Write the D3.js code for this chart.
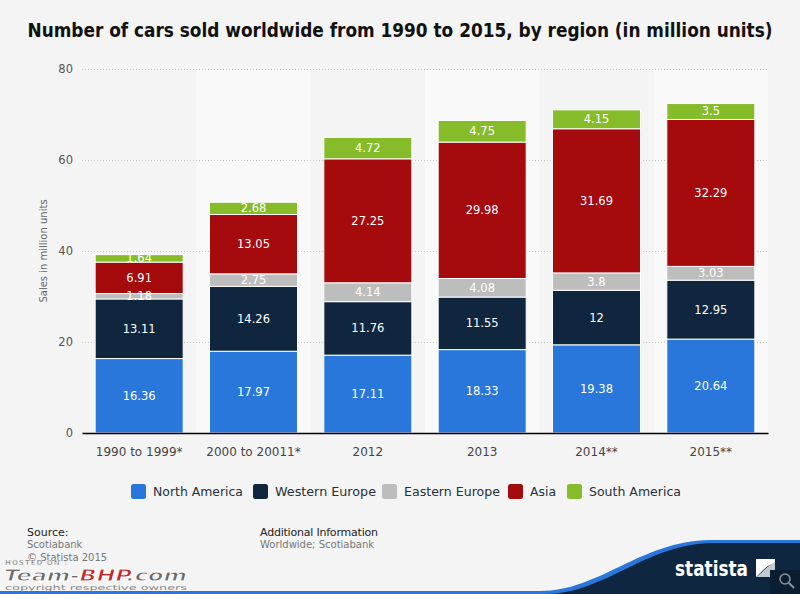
<!DOCTYPE html>
<html><head><meta charset="utf-8">
<script src="https://cdn.jsdelivr.net/npm/d3@7"></script>
<style>body{margin:0;background:#f4f4f4;}svg{display:block;}</style>
</head><body>
<svg id="c" width="800" height="594"></svg>
<script>
const categories = ["1990 to 1999*","2000 to 20011*","2012","2013","2014**","2015**"];
const seriesNames = ["North America","Western Europe","Eastern Europe","Asia","South America"];
const northAmerica = [16.36,17.97,17.11,18.33,19.38,20.64];
const westernEurope = [13.11,14.26,11.76,11.55,12,12.95];
const easternEurope = [1.18,2.75,4.14,4.08,3.8,3.03];
const asia = [6.91,13.05,27.25,29.98,31.69,32.29];
const southAmerica = [1.64,2.68,4.72,4.75,4.15,3.5];
const yTicks = [0,20,40,60,80];
const colors = ["#2a77dc","#10263f","#bdbdbd","#a50a0d","#86bc29"];

const series = [northAmerica,westernEurope,easternEurope,asia,southAmerica];
const table = categories.map((c,i)=>{const o={cat:c};seriesNames.forEach((s,j)=>o[s]=series[j][i]);return o;});
const stacked = d3.stack().keys(seriesNames)(table);

const svg = d3.select("#c");
svg.append("rect").attr("width",800).attr("height",594).attr("fill","#f4f4f4");
const m = {l:82,r:768,t:69,b:433};
const x = d3.scaleBand().domain(categories).range([m.l,m.r]).paddingInner(0.23).paddingOuter(0.115);
const xb = d3.scaleBand().domain(categories).range([m.l,m.r]);
const y = d3.scaleLinear().domain([0,80]).range([m.b,m.t]);

// alternating bands
svg.append("g").selectAll("rect").data(categories.filter((d,i)=>i%2===1)).join("rect")
  .attr("x",d=>xb(d)).attr("width",xb.bandwidth()).attr("y",m.t).attr("height",m.b-m.t).attr("fill","#f9f9f9");

// title
svg.append("text").attr("x",400).attr("y",37).attr("text-anchor","middle")
  .attr("font-family","DejaVu Sans Condensed, DejaVu Sans").attr("font-weight","bold").attr("font-size",18.6).attr("fill","#111")
  .attr("textLength",745).attr("lengthAdjust","spacingAndGlyphs")
  .text("Number of cars sold worldwide from 1990 to 2015, by region (in million units)");

// grid
const yAxis = d3.axisLeft(y).tickValues(yTicks).tickSize(-(m.r-m.l)).tickPadding(9);
const gy = svg.append("g").attr("transform",`translate(${m.l},0)`).call(yAxis);
gy.select(".domain").remove();
gy.selectAll(".tick line").attr("stroke","#c8c8c8").attr("stroke-dasharray","1,2").attr("stroke-width",1);
gy.selectAll(".tick text").attr("font-family","DejaVu Sans").attr("font-size",11.5).attr("fill","#555");
gy.selectAll(".tick").filter(d=>d===0).select("line").remove();

svg.append("text").attr("transform","translate(47,251) rotate(-90)").attr("text-anchor","middle")
  .attr("font-family","DejaVu Sans").attr("font-size",10).attr("fill","#666").text("Sales in million units");

// bars
const g = svg.append("g");
stacked.forEach((s,j)=>{
  g.append("g").selectAll("rect").data(s).join("rect")
    .attr("x",d=>x(d.data.cat)).attr("width",x.bandwidth())
    .attr("y",d=>y(d[1])).attr("height",d=>y(d[0])-y(d[1]))
    .attr("fill",colors[j]).attr("stroke","#fff").attr("stroke-width",1);
});
stacked.forEach((s,j)=>{
  g.append("g").selectAll("text").data(s).join("text")
    .attr("x",d=>x(d.data.cat)+x.bandwidth()/2).attr("y",d=>(y(d[0])+y(d[1]))/2+4)
    .attr("text-anchor","middle").attr("font-family","DejaVu Sans").attr("font-size",11.5).attr("fill","#fff")
    .text(d=>d.data[seriesNames[j]]);
});

// x axis
const xAxis = d3.axisBottom(xb).tickSize(0).tickPadding(14);
const gx = svg.append("g").attr("transform",`translate(0,${m.b})`).call(xAxis);
gx.select(".domain").attr("stroke","#000").attr("stroke-width",1.5);
gx.selectAll(".tick text").attr("font-family","DejaVu Sans").attr("font-size",12).attr("fill","#444");

// legend
const legendX = [131,253,382,508,567];
const legendW = [90,101,96,26,92];
const lg = svg.append("g");
seriesNames.forEach((s,j)=>{
  lg.append("rect").attr("x",legendX[j]).attr("y",484).attr("width",15).attr("height",15).attr("rx",2.5).attr("fill",colors[j]);
  lg.append("text").attr("x",legendX[j]+22).attr("y",496).attr("font-family","DejaVu Sans").attr("font-size",13).attr("fill","#263238")
    .attr("textLength",legendW[j]).attr("lengthAdjust","spacingAndGlyphs").text(s);
});

// footer
const ff = "DejaVu Sans";
svg.append("text").attr("x",27).attr("y",536).attr("font-family",ff).attr("font-size",11).attr("fill","#222").text("Source:");
svg.append("text").attr("x",27).attr("y",548).attr("font-family",ff).attr("font-size",10).attr("fill","#777").text("Scotiabank");
svg.append("text").attr("x",27).attr("y",561).attr("font-family",ff).attr("font-size",10).attr("fill","#777").text("© Statista 2015");
svg.append("text").attr("x",260).attr("y",536).attr("font-family",ff).attr("font-size",11).attr("fill","#222").attr("textLength",118).text("Additional Information");
svg.append("text").attr("x",260).attr("y",548).attr("font-family",ff).attr("font-size",10).attr("fill","#777").text("Worldwide; Scotiabank");

// statista logo
svg.append("path").attr("d","M0,591 L540,591 C600,591 640,541 710,540 L800,540 L800,594 L0,594 Z").attr("fill","#2a77dc");
svg.append("path").attr("d","M0,594 L545,594 C605,594 645,544 712,543 L800,543 L800,594 Z").attr("fill","#0f2640");
svg.append("text").attr("x",675).attr("y",576).attr("font-family","DejaVu Sans Condensed, DejaVu Sans").attr("font-weight","bold").attr("font-size",21).attr("fill","#fff")
  .attr("textLength",73).attr("lengthAdjust","spacingAndGlyphs").text("statista");
svg.append("path").attr("d","M756,559 L775,559 L775,564 C767,564 763,571 756,577 Z").attr("fill","#fff");
svg.append("path").attr("d","M775,562 L775,577 L756,577 C763,572 767,566 775,562 Z").attr("fill","#c3cad2");
svg.append("rect").attr("x",770).attr("y",570).attr("width",30).attr("height",24).attr("fill","#0b1d31");
svg.append("circle").attr("cx",785).attr("cy",579).attr("r",5).attr("fill","none").attr("stroke","#8a94a0").attr("stroke-width",1.5);
svg.append("line").attr("x1",789).attr("y1",583).attr("x2",794).attr("y2",588).attr("stroke","#8a94a0").attr("stroke-width",2);

// watermark
svg.append("text").attr("x",5).attr("y",565).attr("font-family","DejaVu Sans").attr("font-weight","bold").attr("font-size",7).attr("fill","#777").attr("stroke","#fff").attr("stroke-width",0.4)
  .attr("textLength",62).text("HOSTED ON :");
const wm = svg.append("text").attr("x",4).attr("y",581).attr("font-family","DejaVu Sans").attr("font-weight","bold").attr("font-style","italic").attr("font-size",16)
  .attr("stroke","#fff").attr("stroke-width",0.8).attr("textLength",183).attr("lengthAdjust","spacingAndGlyphs");
wm.append("tspan").attr("fill","#6a6a6a").text("Team-");
wm.append("tspan").attr("fill","#c0282a").text("BHP");
wm.append("tspan").attr("fill","#6a6a6a").text(".com");
svg.append("text").attr("x",5).attr("y",590).attr("font-family","DejaVu Sans").attr("font-size",7).attr("fill","#888").attr("textLength",182).attr("lengthAdjust","spacingAndGlyphs").text("copyright respective owners");
</script>
</body></html>
